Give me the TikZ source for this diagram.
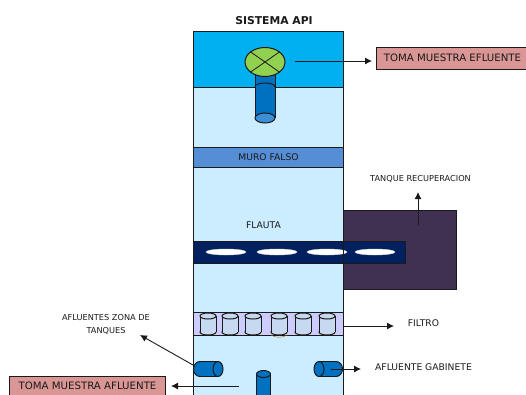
\documentclass[tikz,border=0pt]{standalone}
\usepackage{fontspec}
\setmainfont{DejaVu Sans}
\usetikzlibrary{arrows.meta,shapes.geometric}
\definecolor{topblue}{HTML}{00B0F0}
\definecolor{light}{HTML}{CCECFF}
\definecolor{muro}{HTML}{558ED5}
\definecolor{navy}{HTML}{002060}
\definecolor{tank}{HTML}{403152}
\definecolor{filt}{HTML}{CCCCFF}
\definecolor{cyl}{HTML}{C6D9F1}
\definecolor{pipe}{HTML}{0070C0}
\definecolor{pipeend}{HTML}{3B8FD6}
\definecolor{valve}{HTML}{92D050}
\definecolor{rose}{HTML}{D99694}
\definecolor{ink}{HTML}{1A1A1A}
\tikzset{
  outl/.style={draw=ink,line width=1pt},
  box/.style={outl,inner sep=0pt,anchor=north west},
  lab/.style={font=\fontsize{9.2}{11}\selectfont,text=ink,inner sep=0pt,align=center},
  smalllab/.style={lab,font=\fontsize{8.2}{13.4}\selectfont},
  tag/.style={box,fill=rose},
  tagtext/.style={font=\fontsize{10.2}{12}\selectfont,text=ink,inner sep=0pt},
  arr/.style={draw=ink,line width=0.9pt,-{Latex[length=7pt,width=7pt]}}
}
\newcommand{\vcyl}[7]{% x, ytop, ybot, rx, ry, body fill, end fill
  \draw[outl,fill=#6] (#1,#3) ellipse[x radius=#4,y radius=#5];
  \fill[#6] (#1-#4,#2) rectangle (#1+#4,#3);
  \draw[outl] (#1-#4,#2) -- (#1-#4,#3) (#1+#4,#2) -- (#1+#4,#3);
  \draw[outl,fill=#7] (#1,#2) ellipse[x radius=#4,y radius=#5];
}
\begin{document}
\begin{tikzpicture}[x=1pt,y=-1pt]
\useasboundingbox (0,0) rectangle (526,394);
\clip (0,0) rectangle (526,394);
% body
\node[box,fill=tank,minimum width=113pt,minimum height=79pt] (recup) at (343,210) {};
\node[box,fill=light,minimum width=150pt,minimum height=370pt] (body) at (193,31) {};
\node[box,fill=topblue,minimum width=150pt,minimum height=56pt] (top) at (193,31) {};
\node[box,fill=muro,minimum width=150pt,minimum height=20pt,font=\fontsize{9.2}{11}\selectfont,text=ink] (muro) at (193,147) {MURO FALSO};
\node[box,fill=filt,minimum width=150pt,minimum height=23pt] (filtro) at (193,312) {};
\node[box,fill=navy,minimum width=212pt,minimum height=22pt] (flauta) at (193,241) {};
\foreach \x in {226,277,327,375} \draw[draw=black!15,fill=white,line width=0.4pt] (\x,252) ellipse[x radius=20,y radius=3];
% outlet pipe
\fill[pipe] (255,72) rectangle (275,118);
\draw[outl] (255,72) -- (255,118) (275,72) -- (275,118);
\draw[outl] (255,87) .. controls (255,81.7) and (275,81.7) .. (275,87);
\draw[outl,fill=pipeend] (265,118) ellipse[x radius=10,y radius=5];
\node[ellipse,outl,fill=valve,minimum width=40pt,minimum height=29pt,inner sep=0pt] (valv) at (265,62) {};
\draw[outl,line width=0.8pt] (valv.35) -- (valv.215) (valv.145) -- (valv.325);
% filter cylinders
\draw[orange!70!black,line width=0.4pt] (271,335) .. controls (275,338) and (283,338) .. (287,335);
\foreach \x in {208,230,253,279,303,327} {\vcyl{\x}{316}{332}{8}{3}{cyl}{cyl}}
% horizontal pipes
\draw[outl,fill=pipe] (200,369) ellipse[x radius=6.5,y radius=7.5];
\fill[pipe] (200,362) rectangle (218,376);
\draw[outl] (200,361.5) -- (218,361.5) (200,376.5) -- (218,376.5);
\draw[outl,fill=pipe] (218,369) ellipse[x radius=5,y radius=7.5];
\draw[outl,fill=pipe] (336,369) ellipse[x radius=6.5,y radius=7.5];
\fill[pipe] (319,362) rectangle (336,376);
\draw[outl] (319,361.5) -- (336,361.5) (319,376.5) -- (336,376.5);
\draw[outl,fill=pipe] (319,369) ellipse[x radius=5,y radius=7.5];
\vcyl{263.5}{374}{400}{7}{3.5}{pipe}{pipe}
\draw[outl] (193,31) rectangle (343,400);
% labels
\node[font=\bfseries\fontsize{10.8}{12}\selectfont,text=ink,inner sep=0pt] (title) at (274,20.5) {SISTEMA API};
\node[lab] (flab) at (263.5,225) {FLAUTA};
\node[smalllab] (tr) at (420.5,178.5) {TANQUE RECUPERACION};
\node[lab] (fl) at (423.5,323) {FILTRO};
\node[lab] (ag) at (423.5,367.5) {AFLUENTE GABINETE};
\node[smalllab] (azt) at (106,324.5) {AFLUENTES ZONA DE\\TANQUES};
\node[tag,minimum width=151pt,minimum height=22pt] (te) at (376,47) {};
\node[tagtext] (tetext) at (452.5,58) {TOMA MUESTRA EFLUENTE};
\node[tag,minimum width=156pt,minimum height=24pt] (ta) at (9,375.5) {};
\node[tagtext] (tatext) at (87.5,386) {TOMA MUESTRA AFLUENTE};
% connectors
\coordinate (c1) at (295,61);
\coordinate (c1e) at (372,61);
\coordinate (c2) at (418,225);
\coordinate (c3) at (418,192);
\coordinate (c4) at (394,326);
\coordinate (c5) at (331,369);
\coordinate (c6) at (361,369);
\coordinate (c7) at (193,365);
\coordinate (c8) at (140,335);
\coordinate (c9) at (239,386);
\coordinate (c10) at (171,386);
\draw[arr] (c1) -- (c1e);
\draw[arr] (c2) -- (c3);
\draw[arr] (filtro.east |- c4) -- (c4);
\draw[arr] (c5) -- (c6);
\draw[arr] (c7) -- (c8);
\draw[arr] (c9) -- (c10);
\end{tikzpicture}
\end{document}
